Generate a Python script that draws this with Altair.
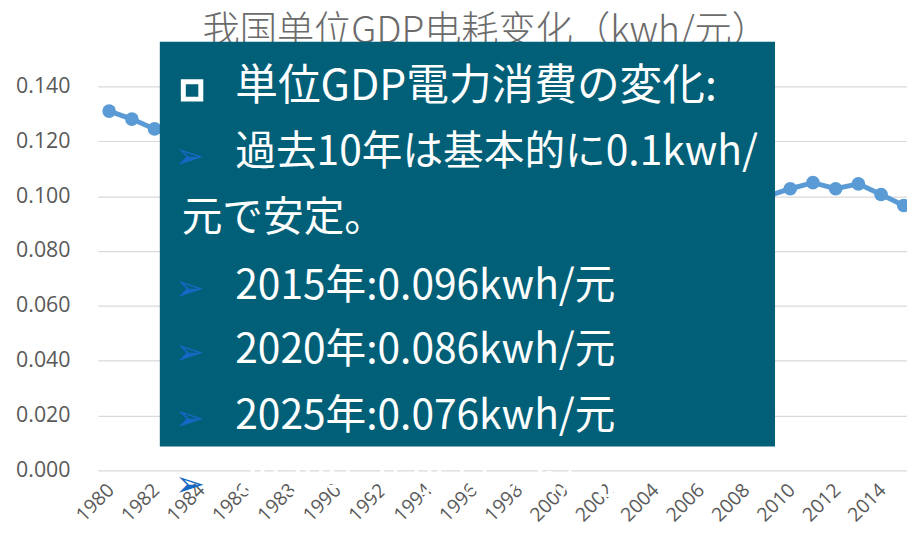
import altair as alt
import pandas as pd

years = list(range(1980, 2016))
intensity = [0.1310, 0.1281, 0.1245, 0.1210, 0.1160, 0.1100, 0.1090, 0.1070,
             0.1040, 0.1050, 0.1070, 0.1040, 0.0980, 0.0920, 0.0880, 0.0860,
             0.0850, 0.0830, 0.0840, 0.0850, 0.0870, 0.0890, 0.0930, 0.0980,
             0.1010, 0.1030, 0.1040, 0.1040, 0.1020, 0.1000, 0.1027, 0.1049,
             0.1027, 0.1045, 0.1006, 0.0966]
x_ticks = list(range(1980, 2015, 2))
y_ticks = [0.0, 0.02, 0.04, 0.06, 0.08, 0.10, 0.12, 0.14]

title_text = "我国单位GDP电耗变化（kwh/元）"
box_lines = ["単位GDP電力消費の変化:",
             "過去10年は基本的に0.1kwh/",
             "元で安定。",
             "2015年:0.096kwh/元",
             "2020年:0.086kwh/元",
             "2025年:0.076kwh/元"]
hidden_line = "2030年:0.066kwh/元"

df = pd.DataFrame({"year": years, "v": intensity})

W = 815.5
H = 387
XD = [1979.5, 1979.5 + W / 22.88]

base = alt.Chart(df)
xenc = alt.X("year:Q", scale=alt.Scale(domain=XD, nice=False, zero=False),
             axis=alt.Axis(values=x_ticks, format="d", labelAngle=-45, grid=False,
                           domain=False, ticks=False, labelFont="Open Sans",
                           labelFontSize=19.5, labelColor="#595959", labelPadding=10,
                           labelOffset=-5, labelOverlap=False, labelBound=False,
                           title=None))
yenc = alt.Y("v:Q", scale=alt.Scale(domain=[0, 0.14], nice=False),
             axis=alt.Axis(values=y_ticks, format=".3f", grid=True, gridColor="#d9d9d9",
                           gridWidth=1.2, domain=False, ticks=False, labelFont="Open Sans",
                           labelFontSize=21.5, labelColor="#595959", labelPadding=28,
                           title=None))

line = base.mark_line(color="#5b9bd5", strokeWidth=5).encode(x=xenc, y=yenc)
pts = base.mark_circle(color="#5b9bd5", opacity=1, size=190).encode(x=xenc, y=yenc)

title = alt.Chart(pd.DataFrame({"t": [title_text]})).mark_text(
    font="Noto Sans CJK SC", fontSize=37.5, color="#6b6b6b", fontWeight=300,
    align="center", baseline="middle").encode(
    x=alt.value(391), y=alt.value(-55), text="t:N")

box = alt.Chart(pd.DataFrame({"a": [1]})).mark_rect(color="#015f78").encode(
    x=alt.value(62.5), x2=alt.value(682.5), y=alt.value(-45), y2=alt.value(363))

line_y = [1, 67, 134, 202, 267, 333]
line_x = [138.5, 138.5, 84.5, 138.5, 138.5, 138.5]
line_fs = [43, 41, 41, 41, 41, 41]
layers = [line, pts, title, box]
for t, lx, ly, fs in zip(box_lines, line_x, line_y, line_fs):
    layers.append(alt.Chart(pd.DataFrame({"t": [t]})).mark_text(
        font="Noto Sans CJK JP", fontSize=fs, color="white", align="left",
        baseline="middle").encode(x=alt.value(lx), y=alt.value(ly), text="t:N"))

layers.append(alt.Chart(pd.DataFrame({"t": [hidden_line]})).mark_text(
    font="Noto Sans CJK JP", fontSize=41, color="white", align="left",
    baseline="middle").encode(x=alt.value(138.5), y=alt.value(399), text="t:N"))

# bullets
layers.append(alt.Chart(pd.DataFrame({"a": [1]})).mark_point(
    shape="square", filled=False, stroke="white", strokeWidth=5, size=310, opacity=1).encode(
    x=alt.value(95), y=alt.value(4)))
for ay in [71, 204, 269, 335, 402]:
    layers.append(alt.Chart(pd.DataFrame({"t": ["➢"]})).mark_text(
        font="DejaVu Sans", fontSize=36, color="#1668c4", align="center",
        baseline="middle").encode(x=alt.value(93), y=alt.value(ay), text="t:N"))

chart = alt.layer(*layers).properties(
    width=W, height=H, background="white",
    autosize=alt.AutoSizeParams(type="none"),
    padding={"left": 90.5, "top": 77, "right": 0, "bottom": 59},
).configure_view(stroke=None)

chart.save("out.html", embed_options={"renderer": "svg", "actions": False})
